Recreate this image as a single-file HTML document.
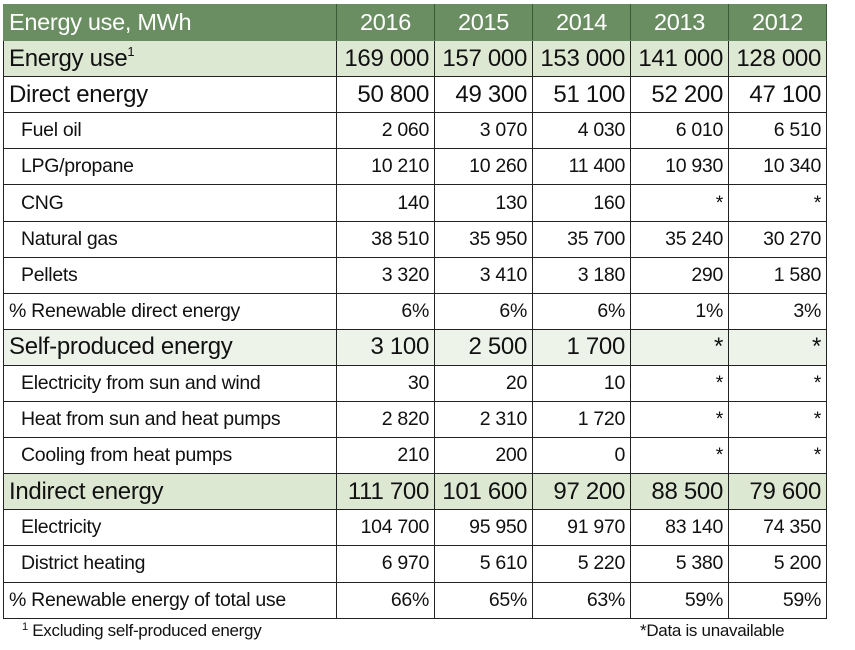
<!DOCTYPE html>
<html><head><meta charset="utf-8"><style>
body{margin:0;background:#fff;width:855px;height:650px;position:relative;font-family:"Liberation Sans",sans-serif;color:#111;overflow:hidden}
table{position:absolute;left:3px;top:4px;border-collapse:collapse;table-layout:fixed}
td{border:1px solid #222;height:35.1px;padding:0 5px;font-size:19.5px;white-space:nowrap;overflow:hidden;text-align:right;letter-spacing:-0.3px}
td:first-child{text-align:left;border-left:1px solid #222}
tr.h td{background:#6a8e62;color:#fff;font-size:23.5px;text-align:center;border-color:#6a8e62;border-right:1px solid #3d5a38}
tr.h td:first-child{text-align:left}
tr.g td{background:#dde8d3;font-size:24px}
tr.l td{background:#eef3ea;font-size:24px}
tr.m td{font-size:24px}
td.s{padding-left:17px}
sup{font-size:13px;vertical-align:10px}
.f{position:absolute;font-size:17px;top:621px;letter-spacing:-0.3px}
</style></head><body>
<table>
<colgroup><col style="width:333px"><col style="width:98px"><col style="width:98px"><col style="width:98px"><col style="width:98px"><col style="width:98px"></colgroup>
<tr class="h"><td>Energy use, MWh</td><td>2016</td><td>2015</td><td>2014</td><td>2013</td><td>2012</td></tr>
<tr class="g"><td>Energy use<sup>1</sup></td><td>169 000</td><td>157 000</td><td>153 000</td><td>141 000</td><td>128 000</td></tr>
<tr class="m"><td>Direct energy</td><td>50 800</td><td>49 300</td><td>51 100</td><td>52 200</td><td>47 100</td></tr>
<tr><td class="s">Fuel oil</td><td>2 060</td><td>3 070</td><td>4 030</td><td>6 010</td><td>6 510</td></tr>
<tr><td class="s">LPG/propane</td><td>10 210</td><td>10 260</td><td>11 400</td><td>10 930</td><td>10 340</td></tr>
<tr><td class="s">CNG</td><td>140</td><td>130</td><td>160</td><td>*</td><td>*</td></tr>
<tr><td class="s">Natural gas</td><td>38 510</td><td>35 950</td><td>35 700</td><td>35 240</td><td>30 270</td></tr>
<tr><td class="s">Pellets</td><td>3 320</td><td>3 410</td><td>3 180</td><td>290</td><td>1 580</td></tr>
<tr><td>% Renewable direct energy</td><td>6%</td><td>6%</td><td>6%</td><td>1%</td><td>3%</td></tr>
<tr class="l"><td>Self-produced energy</td><td>3 100</td><td>2 500</td><td>1 700</td><td>*</td><td>*</td></tr>
<tr><td class="s">Electricity from sun and wind</td><td>30</td><td>20</td><td>10</td><td>*</td><td>*</td></tr>
<tr><td class="s">Heat from sun and heat pumps</td><td>2 820</td><td>2 310</td><td>1 720</td><td>*</td><td>*</td></tr>
<tr><td class="s">Cooling from heat pumps</td><td>210</td><td>200</td><td>0</td><td>*</td><td>*</td></tr>
<tr class="g"><td>Indirect energy</td><td>111 700</td><td>101 600</td><td>97 200</td><td>88 500</td><td>79 600</td></tr>
<tr><td class="s">Electricity</td><td>104 700</td><td>95 950</td><td>91 970</td><td>83 140</td><td>74 350</td></tr>
<tr><td class="s">District heating</td><td>6 970</td><td>5 610</td><td>5 220</td><td>5 380</td><td>5 200</td></tr>
<tr><td>% Renewable energy of total use</td><td>66%</td><td>65%</td><td>63%</td><td>59%</td><td>59%</td></tr>
</table>
<div class="f" style="left:22px"><sup style="font-size:11px;vertical-align:6px">1</sup> Excluding self-produced energy</div>
<div class="f" style="left:640px">*Data is unavailable</div>
</body></html>
